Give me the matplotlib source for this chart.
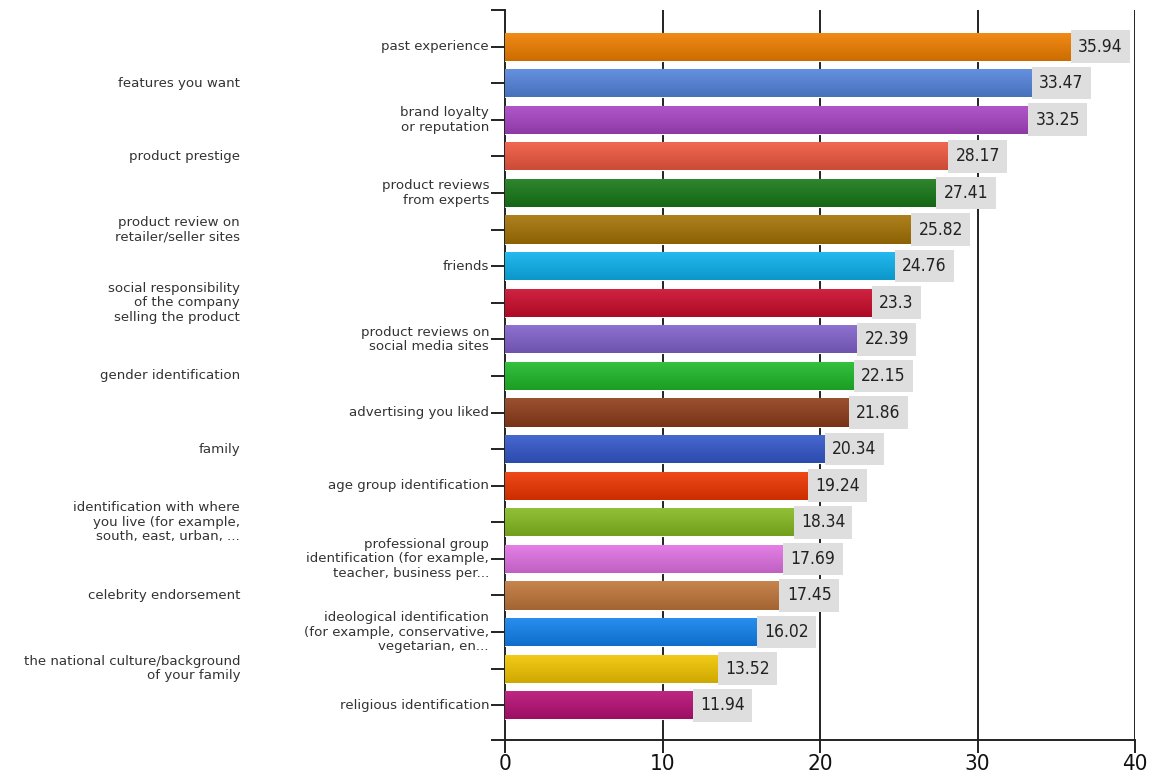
import matplotlib
matplotlib.use("Agg")
import matplotlib.pyplot as plt
import matplotlib.colors as mcolors
import numpy as np

labels = [
    "past experience",
    "features you want",
    "brand loyalty\nor reputation",
    "product prestige",
    "product reviews\nfrom experts",
    "product review on\nretailer/seller sites",
    "friends",
    "social responsibility\nof the company\nselling the product",
    "product reviews on\nsocial media sites",
    "gender identification",
    "advertising you liked",
    "family",
    "age group identification",
    "identification with where\nyou live (for example,\nsouth, east, urban, ...",
    "professional group\nidentification (for example,\nteacher, business per...",
    "celebrity endorsement",
    "ideological identification\n(for example, conservative,\nvegetarian, en...",
    "the national culture/background\nof your family",
    "religious identification",
]
values = [35.94, 33.47, 33.25, 28.17, 27.41, 25.82, 24.76, 23.3, 22.39, 22.15,
          21.86, 20.34, 19.24, 18.34, 17.69, 17.45, 16.02, 13.52, 11.94]
colors = ["#f07f00", "#5585dd", "#a844c4", "#f05840", "#187a18", "#a57305",
          "#0db2ee", "#cc0c2c", "#8262cc", "#1fba2a", "#8e3d1a", "#3358cc",
          "#ef3500", "#86bb22", "#e272e4", "#c0763a", "#1282ee", "#f2c600",
          "#b81075"]
xticks = [0, 10, 20, 30, 40]

fig = plt.figure(figsize=(11.51, 7.77), dpi=100)
ax = fig.add_axes([505 / 1151, 37 / 777, 630 / 1151, 730 / 777])

ypos = np.arange(len(values))
bar_h = 0.77
bars = ax.barh(ypos, values, height=bar_h, color=colors, edgecolor="white",
               linewidth=0.8, zorder=3)

# glossy gradient on each bar
for b, c in zip(bars, colors):
    rgb = np.array(mcolors.to_rgb(c))
    t = np.linspace(0, 1, 32)[:, None]
    top = rgb + (1 - rgb) * 0.10
    bot = rgb * 0.85
    grad = top * (1 - t) + bot * t
    grad = grad[:, None, :].repeat(2, axis=1)
    x0, y0 = b.get_x(), b.get_y()
    im = ax.imshow(grad, extent=[x0, x0 + b.get_width(), y0 + bar_h, y0],
                   aspect="auto", zorder=3.5, interpolation="bilinear")
    im.set_clip_path(b)

# value labels with grey boxes
for y, v in zip(ypos, values):
    ax.annotate("%g" % v, xy=(v, y), xytext=(5, 0), textcoords="offset points",
                va="center", ha="left", fontsize=12.5, fontstretch="condensed",
                color="#222222", zorder=5,
                bbox=dict(boxstyle="square,pad=0.42", fc="#dedede", ec="none"))

ax.set_xlim(0, 40)
ax.set_ylim(18.95, -1.0)

for x in xticks[1:]:
    ax.axvline(x, color="#222222", lw=1.4, zorder=1)

ax.set_xticks(xticks)
ax.set_xticklabels([str(x) for x in xticks], fontsize=16,
                   fontstretch="condensed", color="#111111")
ax.tick_params(axis="x", length=9, width=1.4, color="#222222", pad=1)

yt = [-1.0] + list(ypos) + [18.95]
ax.set_yticks(yt)
ax.set_yticklabels([""] * len(yt))
ax.tick_params(axis="y", length=10, width=1.4, color="#222222")

tr = ax.get_yaxis_transform()
for i, lab in enumerate(labels):
    if i % 2 == 0:
        ax.annotate(lab, xy=(0, i), xycoords=tr, xytext=(-11.5, 0),
                    textcoords="offset points", ha="right", va="center",
                    fontsize=9.6, color="#333333", linespacing=1.15,
                    annotation_clip=False)
    else:
        ax.text(-0.4206, i, lab, transform=tr, ha="right", va="center",
                fontsize=9.6, color="#333333", linespacing=1.15)

for s in ["top", "right"]:
    ax.spines[s].set_visible(False)
ax.spines["left"].set_linewidth(1.4)
ax.spines["bottom"].set_linewidth(1.4)
ax.spines["left"].set_color("#222222")
ax.spines["bottom"].set_color("#222222")

fig.savefig("out.png", dpi=100)
